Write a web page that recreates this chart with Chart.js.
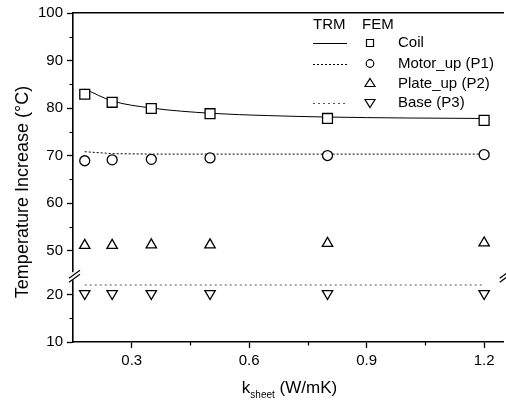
<!DOCTYPE html>
<html>
<head>
<meta charset="utf-8">
<script src="https://cdn.jsdelivr.net/npm/chart.js@4.4.1/dist/chart.umd.min.js"></script>
<style>
html, body { margin: 0; padding: 0; background: #fff; overflow: hidden; }
#wrap { width: 506px; height: 401px; overflow: hidden; }
</style>
</head>
<body>
<div id="wrap"><canvas id="chart" width="512" height="401"></canvas></div>
<script>
// FEM points
const kSheet = [0.18, 0.25, 0.35, 0.5, 0.8, 1.2];
const femCoil = [82.9, 81.2, 79.9, 78.8, 77.8, 77.4];
const femMotor = [68.9, 69.1, 69.2, 69.5, 70.0, 70.2];
const femPlate = [51.1, 51.1, 51.2, 51.2, 51.5, 51.6];
const femBase = [20.2, 20.2, 20.2, 20.2, 20.2, 20.2];

// TRM curves
const trmX = [0.18, 0.25, 0.35, 0.5, 0.65, 0.8, 1.0, 1.2];
const trmCoil = [84.0, 81.5, 80.0, 78.9, 78.4, 78.1, 77.9, 77.8];
const trmMotor = [70.8, 70.4, 70.3, 70.3, 70.3, 70.3, 70.3, 70.3];
const trmBase = [22.0, 22.0, 22.0, 22.0, 22.0, 22.0, 22.0, 22.0];

const xTicks = [0.3, 0.6, 0.9, 1.2];
const xMinor = [0.45, 0.75, 1.05];
const yTicks = [10, 20, 50, 60, 70, 80, 90, 100];
const yMinor = [15, 55, 65, 75, 85, 95];

// broken y axis: values above the gap are shifted down
const GAP = 20.75;
const BREAK = 23.85;
const toAxis = v => v < 35 ? v : v - GAP;
const fromAxis = v => v > BREAK ? v + GAP : v;
const pts = (xs, ys) => xs.map((x, i) => ({x: x, y: toAxis(ys[i])}));

const FONT = "'Liberation Sans', Arial, sans-serif";

const decor = {
  id: 'decor',
  afterDraw(chart) {
    const {ctx, chartArea: a, scales: {x, y}} = chart;
    ctx.save();
    ctx.strokeStyle = '#000';
    ctx.lineWidth = 1.2;

    // minor ticks
    ctx.beginPath();
    yMinor.forEach(v => {
      const py = Math.round(y.getPixelForValue(toAxis(v))) + 0.5;
      ctx.moveTo(a.left, py); ctx.lineTo(a.left - 3.5, py);
    });
    xMinor.forEach(v => {
      const px = Math.round(x.getPixelForValue(v)) + 0.5;
      ctx.moveTo(px, a.bottom); ctx.lineTo(px, a.bottom + 3.5);
    });
    ctx.stroke();

    // axis break marks
    const yb = y.getPixelForValue(BREAK);
    [a.left, a.right].forEach(bx => {
      ctx.fillStyle = '#fff';
      ctx.fillRect(bx - 2, yb - 4, 4, 8);
      ctx.beginPath();
      ctx.moveTo(bx - 4, yb + 2); ctx.lineTo(bx + 7, yb - 6);
      ctx.moveTo(bx - 4, yb + 6); ctx.lineTo(bx + 7, yb - 2);
      ctx.stroke();
    });

    ctx.fillStyle = '#000';

    // y title
    ctx.save();
    ctx.translate(23, 192);
    ctx.rotate(-Math.PI / 2);
    ctx.font = '18px ' + FONT;
    ctx.textAlign = 'center';
    ctx.textBaseline = 'middle';
    ctx.fillText('Temperature Increase (°C)', 0, 0);
    ctx.restore();

    // x title with subscript
    const big = '17px ' + FONT, small = '10px ' + FONT;
    ctx.font = big; const wk = ctx.measureText('k').width;
    const wu = ctx.measureText(' (W/mK)').width;
    ctx.font = small; const ws = ctx.measureText('sheet').width;
    let tx = (a.left + 506) / 2 - (wk + ws + wu) / 2;
    ctx.textAlign = 'left';
    ctx.textBaseline = 'alphabetic';
    ctx.font = big; ctx.fillText('k', tx, 393); tx += wk;
    ctx.font = small; ctx.fillText('sheet', tx, 398); tx += ws;
    ctx.font = big; ctx.fillText(' (W/mK)', tx, 393);

    // legend
    ctx.font = '15px ' + FONT;
    ctx.textBaseline = 'middle';
    ctx.fillText('TRM', 313, 25);
    ctx.fillText('FEM', 362, 25);
    const rows = [
      {label: 'Coil', y: 43, dash: [], color: '#000', mark: 'rect'},
      {label: 'Motor_up (P1)', y: 63.5, dash: [2, 2], color: '#000', mark: 'circle'},
      {label: 'Plate_up (P2)', y: 83.5, dash: null, mark: 'up'},
      {label: 'Base (P3)', y: 102.5, dash: [2, 3], color: '#555', mark: 'down'}
    ];
    rows.forEach(r => {
      if (r.dash) {
        ctx.save();
        ctx.strokeStyle = r.color;
        ctx.lineWidth = 1;
        ctx.setLineDash(r.dash);
        ctx.beginPath();
        ctx.moveTo(313, Math.round(r.y) + 0.5);
        ctx.lineTo(347, Math.round(r.y) + 0.5);
        ctx.stroke();
        ctx.restore();
      }
      ctx.lineWidth = 1.2;
      ctx.beginPath();
      const mx = 370, my = r.y;
      if (r.mark === 'rect') ctx.rect(mx - 3.5, my - 3.5, 7, 7);
      else if (r.mark === 'circle') ctx.arc(mx, my, 3.8, 0, Math.PI * 2);
      else if (r.mark === 'up') { ctx.moveTo(mx, my - 5); ctx.lineTo(mx + 5, my + 3); ctx.lineTo(mx - 5, my + 3); ctx.closePath(); }
      else { ctx.moveTo(mx, my + 5); ctx.lineTo(mx + 5, my - 3); ctx.lineTo(mx - 5, my - 3); ctx.closePath(); }
      ctx.stroke();
      ctx.fillStyle = '#000';
      ctx.fillText(r.label, 398, r.y);
    });
    ctx.restore();
  }
};

const fem = (data, style, radius, rotation) => ({
  type: 'scatter',
  data: data,
  order: 0,
  showLine: false,
  pointStyle: style,
  pointRadius: radius,
  pointRotation: rotation || 0,
  pointBackgroundColor: '#fff',
  pointBorderColor: '#000',
  pointBorderWidth: 1.3
});

const trm = (data, color, dash, interp) => ({
  type: 'scatter',
  data: data,
  order: 1,
  showLine: true,
  borderColor: color,
  borderWidth: 1,
  borderDash: dash,
  pointRadius: 0,
  cubicInterpolationMode: interp || 'default',
  tension: 0
});

new Chart(document.getElementById('chart'), {
  type: 'scatter',
  data: {
    datasets: [
      fem(pts(kSheet, femCoil), 'rect', 7),
      fem(pts(kSheet, femMotor), 'circle', 5),
      fem(pts(kSheet, femPlate), 'triangle', 6),
      fem(pts(kSheet, femBase), 'triangle', 6, 180),
      trm(pts(trmX, trmCoil), '#000', [], 'monotone'),
      trm(pts(trmX, trmMotor), '#000', [2, 2]),
      trm(pts(trmX, trmBase), '#555', [2, 3])
    ]
  },
  options: {
    responsive: false,
    animation: false,
    layout: {padding: {top: 12, right: 1, left: 0, bottom: 0}},
    plugins: {legend: {display: false}, tooltip: {enabled: false}},
    scales: {
      x: {
        type: 'linear',
        position: 'bottom',
        min: 0.15,
        max: 1.25,
        afterBuildTicks: s => { s.ticks = xTicks.map(v => ({value: v})); },
        afterFit: s => { s.height = 59; },
        ticks: {
          color: '#000',
          font: {family: FONT, size: 15},
          padding: 4,
          maxRotation: 0,
          callback: v => v.toFixed(1)
        },
        grid: {drawOnChartArea: false, drawTicks: true, tickLength: 6, tickColor: '#000', tickWidth: 1.3},
        border: {color: '#000', width: 1.6}
      },
      xTop: {
        type: 'linear',
        position: 'top',
        min: 0.15,
        max: 1.25,
        afterFit: s => { s.height = 0; },
        ticks: {display: false},
        grid: {display: false, drawTicks: false},
        border: {color: '#000', width: 1.6}
      },
      y: {
        type: 'linear',
        min: 10,
        max: 100 - GAP,
        afterBuildTicks: s => { s.ticks = yTicks.map(v => ({value: toAxis(v)})); },
        afterFit: s => { s.width = 73; },
        ticks: {
          color: '#000',
          font: {family: FONT, size: 15},
          padding: 4,
          callback: v => String(Math.round(fromAxis(v)))
        },
        grid: {drawOnChartArea: false, drawTicks: true, tickLength: 6, tickColor: '#000', tickWidth: 1.3},
        border: {color: '#000', width: 1.6}
      }
    }
  },
  plugins: [decor]
});
</script>
</body>
</html>
